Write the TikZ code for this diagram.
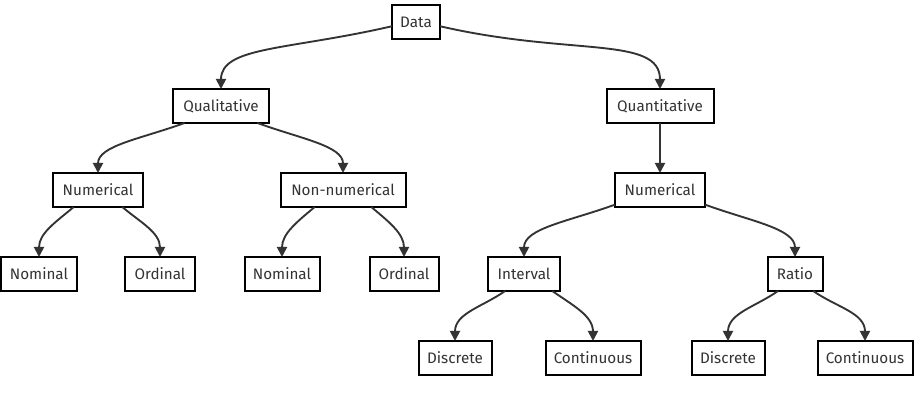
\documentclass[tikz,border=0pt]{standalone}
\usepackage{fontspec}
\setmainfont{Fira Sans}
\usetikzlibrary{arrows.meta}
\definecolor{ink}{HTML}{333333}
\tikzset{
  box/.style={draw=black, line width=0.06cm, fill=white, text=ink,
    minimum height=1.02cm, inner sep=1pt, outer sep=0pt,
    font=\fontsize{13}{15}\selectfont},
  arr/.style={draw=ink, line width=1.6pt,
    -{Triangle[length=0.3cm,width=0.3cm]}}
}
\begin{document}
\begin{tikzpicture}[x=0.03cm,y=-0.03cm]
\useasboundingbox (0,0) rectangle (920,405);

% level 0 and 1
\node[box, minimum width=1.44cm] (data) at (416,22) {Data};
\node[box, minimum width=2.88cm] (qual) at (221,106) {Qualitative};
\node[box, minimum width=3.21cm] (quant) at (660,106) {Quantitative};

% level 2
\node[box, minimum width=2.67cm] (numl) at (98,190) {Numerical};
\node[box, minimum width=3.75cm] (nonnum) at (343,190) {Non-numerical};
\node[box, minimum width=2.70cm] (numr) at (660,190) {Numerical};

% level 3
\node[box, minimum width=2.25cm] (noma) at (39,274) {Nominal};
\node[box, minimum width=2.07cm] (orda) at (160,274) {Ordinal};
\node[box, minimum width=2.25cm] (nomb) at (282,274) {Nominal};
\node[box, minimum width=2.07cm] (ordb) at (404,274) {Ordinal};
\node[box, minimum width=2.16cm] (interval) at (524,274) {Interval};
\node[box, minimum width=1.65cm] (ratio) at (795,274) {Ratio};

% level 4
\node[box, minimum width=2.19cm] (disca) at (455,358) {Discrete};
\node[box, minimum width=2.85cm] (conta) at (593,358) {Continuous};
\node[box, minimum width=2.19cm] (discb) at (728,358) {Discrete};
\node[box, minimum width=2.85cm] (contb) at (865,358) {Continuous};

% edges
\draw[arr] (data.190) to[out=193,in=90,out looseness=1.5,in looseness=0.6] (qual.north);
\draw[arr] (data.-10) to[out=-13,in=90,out looseness=1.5,in looseness=0.6] (quant.north);

\draw[arr] (qual.205) to[out=200,in=90,out looseness=1.2,in looseness=0.7] (numl.north);
\draw[arr] (qual.-25) to[out=-20,in=90,out looseness=1.2,in looseness=0.7] (nonnum.north);
\draw[arr] (quant) -- (numr);

\draw[arr] (numl.215) to[out=220,in=90] (noma.north);
\draw[arr] (numl.-35) to[out=-40,in=90] (orda.north);
\draw[arr] (nonnum.211) to[out=220,in=90] (nomb.north);
\draw[arr] (nonnum.-31) to[out=-40,in=90] (ordb.north);

\draw[arr] (numr.198) to[out=200,in=90,out looseness=1.2,in looseness=0.7] (interval.north);
\draw[arr] (numr.-18) to[out=-20,in=90,out looseness=1.2,in looseness=0.7] (ratio.north);

\draw[arr] (interval.222) to[out=215,in=90] (disca.north);
\draw[arr] (interval.-31) to[out=-35,in=90] (conta.north);
\draw[arr] (ratio.225) to[out=215,in=90] (discb.north);
\draw[arr] (ratio.-43) to[out=-35,in=90] (contb.north);

\end{tikzpicture}
\end{document}
